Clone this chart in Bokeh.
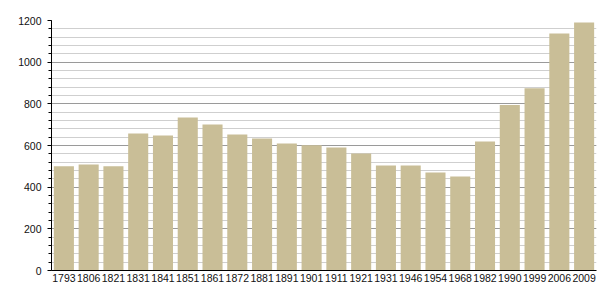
from bokeh.plotting import figure
from bokeh.models import Range1d, FactorRange, SingleIntervalTicker, ColumnDataSource
from bokeh.embed import file_html
from bokeh.resources import INLINE

years = ["1793", "1806", "1821", "1831", "1841", "1851", "1861", "1872", "1881", "1891",
         "1901", "1911", "1921", "1931", "1946", "1954", "1968", "1982", "1990", "1999",
         "2006", "2009"]
population = [500, 509, 500, 658, 648, 734, 701, 653, 634, 610,
              601, 590, 562, 504, 504, 470, 451, 619, 795, 875,
              1138, 1190]

src = ColumnDataSource(dict(year=years, pop=population))

p = figure(width=605, height=300, output_backend="svg", toolbar_location=None,
           x_range=FactorRange(*years, range_padding=0.0), y_range=Range1d(0, 1200),
           min_border_left=51, min_border_right=9, min_border_top=20, min_border_bottom=30)

p.vbar(x="year", top="pop", width=0.81, source=src, color="#C9BE97", line_color=None)

p.outline_line_color = None
p.background_fill_color = "white"

# y axis
p.yaxis.ticker = SingleIntervalTicker(interval=200, num_minor_ticks=5)
p.yaxis.axis_line_color = "black"
p.yaxis.major_tick_in = 0
p.yaxis.major_tick_out = 4
p.yaxis.minor_tick_in = 0
p.yaxis.minor_tick_out = 3
p.yaxis.major_tick_line_color = "black"
p.yaxis.minor_tick_line_color = "black"
p.yaxis.major_label_standoff = 6
p.yaxis.major_label_text_font = "Liberation Sans"
p.yaxis.major_label_text_font_size = "10.5px"
p.yaxis.major_label_text_color = "#111111"

# x axis
p.xaxis.axis_line_color = "black"
p.xaxis.major_tick_line_color = None
p.xaxis.minor_tick_line_color = None
p.xaxis.major_tick_out = 0
p.xaxis.major_tick_in = 0
p.xaxis.major_label_standoff = 3
p.xaxis.major_label_text_font = "Liberation Sans"
p.xaxis.major_label_text_font_size = "10.5px"
p.xaxis.major_label_text_color = "#111111"

# grids
p.xgrid.grid_line_color = None
p.ygrid.grid_line_color = "#9a9a9a"
p.ygrid.grid_line_width = 1
p.ygrid.minor_grid_line_color = "#cfcfcf"
p.ygrid.minor_grid_line_width = 1

open("out.html", "w").write(file_html(p, INLINE))
